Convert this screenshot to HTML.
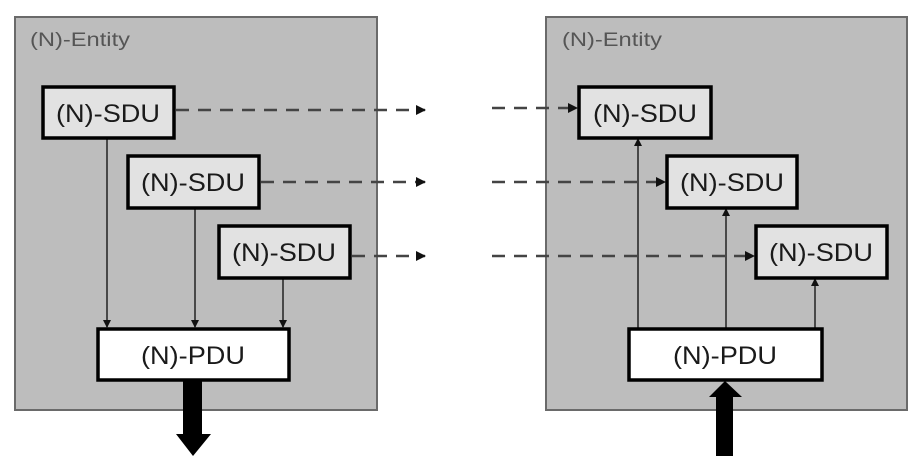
<!DOCTYPE html>
<html><head><meta charset="utf-8"><style>
html,body{margin:0;padding:0;background:#fff;width:924px;height:470px;overflow:hidden}
text{font-family:"Liberation Sans",sans-serif}
</style></head><body>
<svg width="924" height="470" viewBox="0 0 924 470" xmlns="http://www.w3.org/2000/svg">
<defs>
<marker id="ah" markerWidth="10" markerHeight="10" refX="9" refY="5" orient="auto" markerUnits="userSpaceOnUse">
<path d="M0,0 L10,5 L0,10 z" fill="#111"/></marker>
<marker id="as" markerWidth="8" markerHeight="8" refX="7" refY="4" orient="auto" markerUnits="userSpaceOnUse">
<path d="M0,0 L8,4 L0,8 z" fill="#111"/></marker>
</defs>
<rect x="15" y="17" width="362" height="393" fill="#bdbdbd" stroke="#6a6a6a" stroke-width="2"/>
<text x="30" y="46" font-size="19" fill="#555" textLength="100" lengthAdjust="spacingAndGlyphs">(N)-Entity</text>
<rect x="546" y="17" width="361" height="393" fill="#bdbdbd" stroke="#6a6a6a" stroke-width="2"/>
<text x="562" y="46" font-size="19" fill="#555" textLength="100" lengthAdjust="spacingAndGlyphs">(N)-Entity</text>

<g stroke="#222" stroke-width="1.5">
<line x1="107" y1="138" x2="107" y2="327" marker-end="url(#as)"/>
<line x1="195" y1="208" x2="195" y2="327" marker-end="url(#as)"/>
<line x1="283" y1="278" x2="283" y2="327" marker-end="url(#as)"/>
<line x1="638" y1="328" x2="638" y2="139" marker-end="url(#as)"/>
<line x1="726" y1="328" x2="726" y2="209" marker-end="url(#as)"/>
<line x1="815" y1="328" x2="815" y2="279" marker-end="url(#as)"/>
</g>
<g stroke="#444" stroke-width="2.5" stroke-dasharray="13,9" fill="none">
<line x1="176" y1="110" x2="425" y2="110" marker-end="url(#ah)"/>
<line x1="261" y1="182" x2="425" y2="182" marker-end="url(#ah)"/>
<line x1="352" y1="256" x2="425" y2="256" marker-end="url(#ah)"/>
<line x1="492" y1="108" x2="577" y2="108" marker-end="url(#ah)"/>
<line x1="492" y1="182" x2="665" y2="182" marker-end="url(#ah)"/>
<line x1="492" y1="256" x2="754" y2="256" marker-end="url(#ah)"/>
</g>

<g stroke="#000" stroke-width="3.5" fill="#e2e2e2">
<rect x="43" y="87" width="131" height="51"/>
<rect x="128" y="156" width="131" height="52"/>
<rect x="219" y="226" width="131" height="52"/>
<rect x="98" y="329" width="191" height="51" fill="#fff"/>
<rect x="579" y="87" width="132" height="51"/>
<rect x="667" y="156" width="130" height="52"/>
<rect x="756" y="226" width="131" height="52"/>
<rect x="629" y="329" width="193" height="51" fill="#fff"/>
</g>
<g font-size="25" fill="#1a1a1a" text-anchor="middle" lengthAdjust="spacingAndGlyphs">
<text x="108" y="122" textLength="104" lengthAdjust="spacingAndGlyphs">(N)-SDU</text>
<text x="193" y="191" textLength="104" lengthAdjust="spacingAndGlyphs">(N)-SDU</text>
<text x="284" y="261" textLength="104" lengthAdjust="spacingAndGlyphs">(N)-SDU</text>
<text x="193" y="364" textLength="104" lengthAdjust="spacingAndGlyphs">(N)-PDU</text>
<text x="645" y="122" textLength="104" lengthAdjust="spacingAndGlyphs">(N)-SDU</text>
<text x="732" y="191" textLength="104" lengthAdjust="spacingAndGlyphs">(N)-SDU</text>
<text x="821" y="261" textLength="104" lengthAdjust="spacingAndGlyphs">(N)-SDU</text>
<text x="725" y="364" textLength="104" lengthAdjust="spacingAndGlyphs">(N)-PDU</text>
</g>

<path d="M183,381 L202,381 L202,434 L211,434 L193,456 L176,434 L183,434 z" fill="#000"/>
<path d="M716,456 L733,456 L733,397 L742,397 L725,381 L709,397 L716,397 z" fill="#000"/>
</svg>
</body></html>
